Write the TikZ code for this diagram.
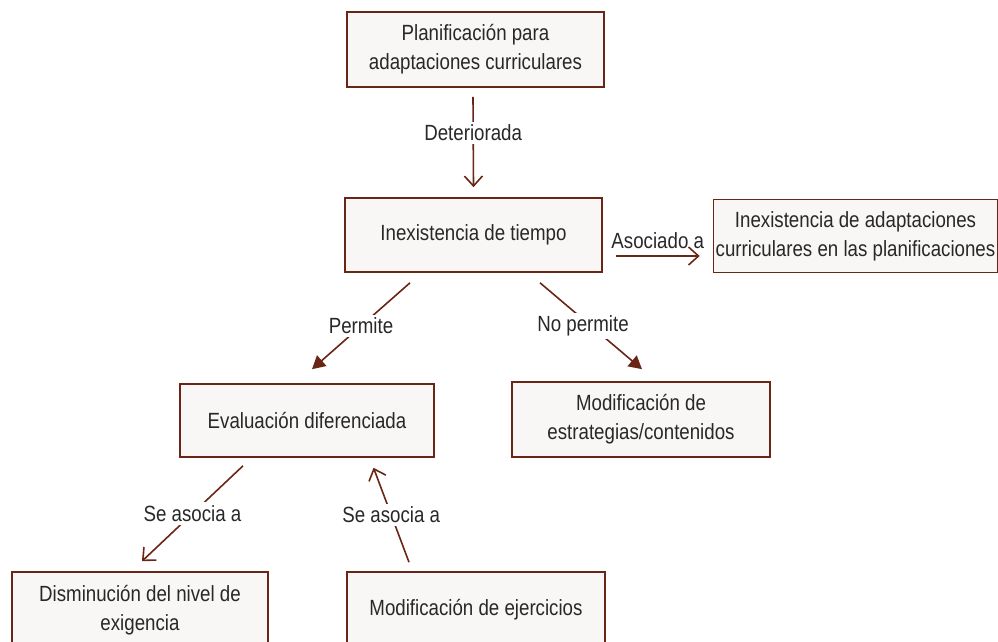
\documentclass[tikz,border=0pt]{standalone}
\usepackage{fontspec}
\setmainfont{Liberation Sans}[FakeStretch=0.85]
\usetikzlibrary{positioning, arrows.meta}
\definecolor{brownline}{RGB}{105,38,22}
\definecolor{boxfill}{RGB}{248,247,246}
\definecolor{txtgray}{RGB}{40,40,40}

\begin{document}
\begin{tikzpicture}[x=1pt,y=-1pt,line width=1.6pt,
		font=\fontsize{22}{29}\selectfont,text=txtgray]
		\tikzstyle{box}=[draw=brownline,fill=boxfill,align=center,inner sep=2pt]
		\tikzstyle{open}=[draw=brownline,-{Straight Barb[length=10pt,width=18pt]}]
		\tikzstyle{solid}=[draw=brownline,-{Triangle[length=13pt,width=14pt]}]
		\tikzstyle{lbl}=[fill=white,inner sep=3pt]
		\useasboundingbox (0,0) rectangle (998,642);
		\clip (0,0) rectangle (998,642);

		\node[box,minimum width=257pt,minimum height=75pt] (plan) at (475.5,49.5)
			{Planificación para\\adaptaciones curriculares};
		\node[box,minimum width=257pt,minimum height=74pt] (tiempo) at (473.5,235)
			{Inexistencia de tiempo};
		\node[box,minimum width=284pt,minimum height=73pt] (adapt) at (855.5,236)
			{Inexistencia de adaptaciones\\curriculares en las planificaciones};
		\node[box,minimum width=254pt,minimum height=73pt] (eval) at (307,420.5)
			{Evaluación diferenciada};
		\node[box,minimum width=258pt,minimum height=75pt] (estrat) at (641,419.5)
			{Modificación de\\estrategias/contenidos};
		\node[box,minimum width=256pt,minimum height=76pt] (dismin) at (140,610)
			{Disminución del nivel de\\exigencia};
		\node[box,minimum width=258pt,minimum height=76pt] (ejerc) at (476,610)
			{Modificación de ejercicios};

		\path	([xshift=-2.5pt,yshift=-9pt]plan.south) edge[open] node[lbl,pos=0.4] {Deteriorada} ([yshift=10pt]tiempo.north)
				([xshift=13pt,yshift=-21pt]tiempo.east) edge[open] node[above=3pt] {Asociado a} ([xshift=-13pt,yshift=-20pt]adapt.west)
				([xshift=-63.5pt,yshift=-10pt]tiempo.south) edge[solid] node[lbl] {Permite} ([xshift=5pt,yshift=14pt]eval.north)
				([xshift=66.5pt,yshift=-10pt]tiempo.south) edge[solid] node[lbl,xshift=-8pt] {No permite} ([xshift=1pt,yshift=12pt]estrat.north)
				([xshift=-64pt,yshift=-8pt]eval.south) edge[open] node[lbl] {Se asocia a} ([xshift=2pt,yshift=10pt]dismin.north)
				([xshift=-67pt,yshift=9pt]ejerc.north) edge[open] node[lbl] {Se asocia a} ([xshift=66.5pt,yshift=-10pt]eval.south);
	\end{tikzpicture}
\end{document}
